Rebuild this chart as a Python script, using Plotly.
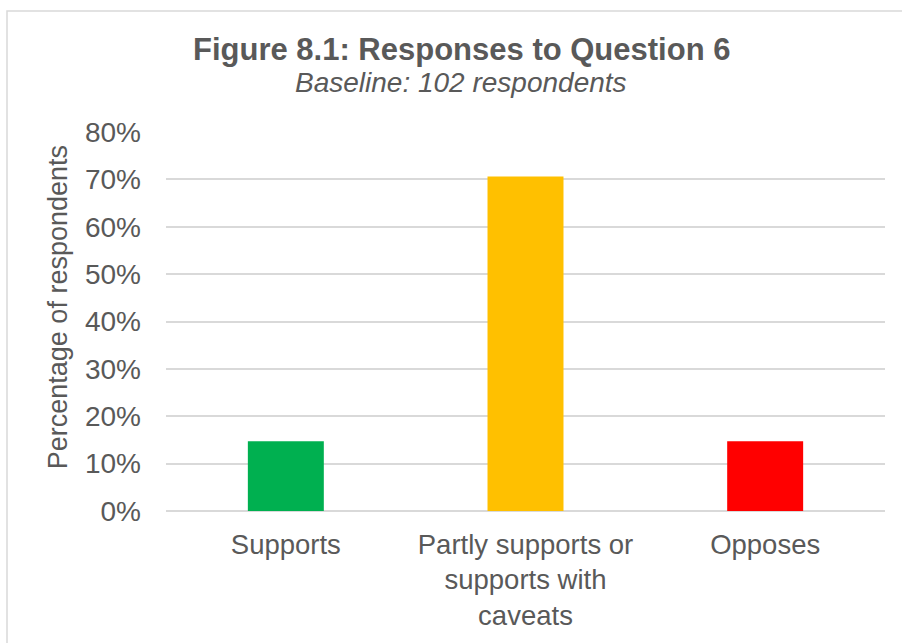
import plotly.graph_objects as go

categories = ["Supports", "Partly supports or<br>supports with<br>caveats", "Opposes"]
values = [14.7, 70.6, 14.7]
bar_colors = ["#00B050", "#FFC000", "#FF0000"]
tick_vals = [0, 10, 20, 30, 40, 50, 60, 70, 80]
tick_text = ["0%", "10%", "20%", "30%", "40%", "50%", "60%", "70%", "80%"]

title_text = "Figure 8.1: Responses to Question 6"
subtitle_text = "Baseline: 102 respondents"
y_title = "Percentage of respondents"

W, H = 902, 643
L, R, T, B = 166, 17, 132, 126
pw, ph = W - L - R, H - T - B

def px_x(x):
    return (x - L) / pw

def px_y(y):
    return (H - B - y) / ph

TXT = "#595959"
GRID = "#D9D9D9"
FONT = "Arial, Liberation Sans, sans-serif"

fig = go.Figure(
    go.Bar(
        x=categories,
        y=values,
        marker=dict(color=bar_colors, line=dict(width=0)),
        hoverinfo="skip",
    )
)

fig.update_layout(
    width=W,
    height=H,
    margin=dict(l=L, r=R, t=T, b=B),
    paper_bgcolor="white",
    plot_bgcolor="white",
    bargap=0.683,
    showlegend=False,
    font=dict(family=FONT, color=TXT, size=27),
)

fig.update_xaxes(
    showgrid=False,
    showline=False,
    zeroline=False,
    ticks="",
    tickfont=dict(size=27.5, color=TXT, family=FONT),
    ticklabelstandoff=14,
)
fig.update_yaxes(
    range=[0, 80],
    tickvals=tick_vals,
    ticktext=tick_text,
    showgrid=True,
    gridcolor=GRID,
    gridwidth=1.5,
    zeroline=True,
    zerolinecolor=GRID,
    zerolinewidth=1.5,
    showline=False,
    ticks="",
    tickfont=dict(size=28, color=TXT, family=FONT),
    ticklabelstandoff=24,
)

fig.add_annotation(
    text="<b>" + title_text + "</b>",
    xref="paper", yref="paper",
    x=px_x(461), y=px_y(48),
    xanchor="center", yanchor="middle",
    showarrow=False,
    font=dict(size=31, color=TXT, family=FONT),
)
fig.add_annotation(
    text="<i>" + subtitle_text + "</i>",
    xref="paper", yref="paper",
    x=px_x(461), y=px_y(82),
    xanchor="center", yanchor="middle",
    showarrow=False,
    font=dict(size=28, color=TXT, family=FONT),
)
fig.add_annotation(
    text=y_title,
    xref="paper", yref="paper",
    x=px_x(58), y=px_y(310),
    xanchor="center", yanchor="middle",
    textangle=-90,
    showarrow=False,
    font=dict(size=27, color=TXT, family=FONT),
)

# chart border (left and top edges visible)
fig.add_shape(
    type="rect",
    xref="paper", yref="paper",
    x0=px_x(7), x1=px_x(910),
    y0=px_y(652), y1=px_y(9),
    line=dict(color=GRID, width=1.5),
    fillcolor="rgba(0,0,0,0)",
    layer="below",
)

fig.write_html("out.html")
